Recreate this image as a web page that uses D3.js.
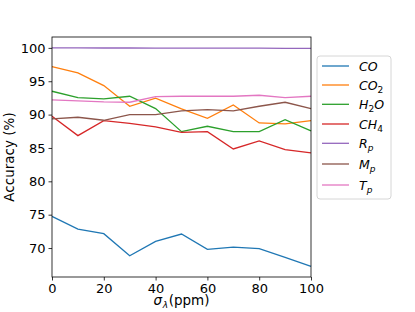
<!DOCTYPE html>
<html>
<head>
<meta charset="utf-8">
<script src="https://cdn.jsdelivr.net/npm/d3@7"></script>
<style>
  body { margin: 0; background: #fff; }
  text { font-family: "DejaVu Sans", sans-serif; }
</style>
</head>
<body>
<svg width="415" height="312"></svg>
<script>
// noise levels (ppm)
var sigma = [0, 10, 20, 30, 40, 50, 60, 70, 80, 90, 100];

// accuracy (%) per retrieved quantity
var co  = [74.75, 72.85, 72.15, 68.85, 71.0, 72.1, 69.8, 70.15, 69.9, 68.6, 67.25];
var co2 = [97.2, 96.25, 94.35, 91.25, 92.45, 90.85, 89.45, 91.45, 88.75, 88.6, 89.1];
var h2o = [93.5, 92.55, 92.35, 92.75, 90.9, 87.45, 88.25, 87.45, 87.45, 89.25, 87.55];
var ch4 = [89.75, 86.85, 89.1, 88.7, 88.15, 87.35, 87.45, 84.85, 86.05, 84.75, 84.25];
var rp  = [100, 100, 99.98, 99.98, 99.97, 99.97, 99.96, 99.95, 99.95, 99.93, 99.92];
var mp  = [89.35, 89.6, 89.15, 90.0, 90.0, 90.55, 90.75, 90.55, 91.25, 91.85, 90.9];
var tp  = [92.2, 92.05, 91.9, 91.85, 92.7, 92.75, 92.75, 92.75, 92.9, 92.55, 92.75];

var xTicks = [0, 20, 40, 60, 80, 100];
var yTicks = [70, 75, 80, 85, 90, 95, 100];

// legend labels: [main, subscript, trailing]
var series = [
  { name: ["CO", "", ""],  values: co,  color: "#1f77b4" },
  { name: ["CO", "2", ""], values: co2, color: "#ff7f0e" },
  { name: ["H", "2", "O"], values: h2o, color: "#2ca02c" },
  { name: ["CH", "4", ""], values: ch4, color: "#d62728" },
  { name: ["R", "p", ""],  values: rp,  color: "#9467bd" },
  { name: ["M", "p", ""],  values: mp,  color: "#8c564b" },
  { name: ["T", "p", ""],  values: tp,  color: "#e377c2" }
];

var svg = d3.select("svg");
var pLeft = 52, pRight = 311, pTop = 37, pBottom = 277;

var x = d3.scaleLinear().domain([0, 100]).range([pLeft, pRight]);
var y = d3.scaleLinear().domain([65.66, 101.63]).range([pBottom, pTop]);

svg.append("g")
    .attr("transform", "translate(0," + pBottom + ")")
    .call(d3.axisBottom(x).tickValues(xTicks).tickSize(3.5).tickPadding(3).tickSizeOuter(0));
svg.append("g")
    .attr("transform", "translate(" + pLeft + ",0)")
    .call(d3.axisLeft(y).tickValues(yTicks).tickSize(3.5).tickPadding(3).tickSizeOuter(0));

svg.selectAll(".domain").remove();
svg.selectAll(".tick text")
    .style("font-family", "DejaVu Sans")
    .style("font-size", "13px")
    .attr("fill", "#000");
svg.selectAll(".tick line").attr("stroke", "#000").attr("stroke-width", 0.8);

// lines
var line = d3.line()
    .x(function(d, i) { return x(sigma[i]); })
    .y(function(d) { return y(d); });

svg.selectAll("path.series")
    .data(series)
  .enter()
  .append("path")
    .attr("class", "series")
    .attr("d", function(d) { return line(d.values); })
    .attr("fill", "none")
    .attr("stroke", function(d) { return d.color; })
    .attr("stroke-width", 1.3);

// frame
svg.append("rect")
    .attr("x", pLeft).attr("y", pTop)
    .attr("width", pRight - pLeft).attr("height", pBottom - pTop)
    .attr("fill", "none").attr("stroke", "#000").attr("stroke-width", 0.8);

// axis labels
svg.append("text")
    .attr("transform", "translate(14," + ((pTop + pBottom) / 2) + ") rotate(-90)")
    .attr("text-anchor", "middle")
    .style("font-size", "13.5px")
    .text("Accuracy (%)");

var xl = svg.append("text")
    .attr("x", (pLeft + pRight) / 2)
    .attr("y", 305)
    .attr("text-anchor", "middle")
    .style("font-size", "13.5px");
xl.append("tspan").style("font-style", "italic").text("σ");
xl.append("tspan").style("font-style", "italic").style("font-size", "9px").attr("dx", 0.8).attr("dy", 3).text("λ");
xl.append("tspan").attr("dx", 0.5).attr("dy", -3).text("(ppm)");

// legend
var lg = svg.append("g").attr("transform", "translate(317,56)");
lg.append("rect")
    .attr("width", 74).attr("height", 143)
    .attr("rx", 3).attr("ry", 3)
    .attr("fill", "#fff").attr("fill-opacity", 0.8)
    .attr("stroke", "#cccccc").attr("stroke-width", 0.8);

var rowY = [10, 29, 48.3, 68, 87.3, 108, 129];
var item = lg.selectAll("g.item")
    .data(series)
  .enter()
  .append("g")
    .attr("class", "item")
    .attr("transform", function(d, i) { return "translate(0," + rowY[i] + ")"; });

item.append("line")
    .attr("x1", 5).attr("x2", 32)
    .attr("stroke", function(d) { return d.color; })
    .attr("stroke-width", 1.3);

var lt = item.append("text")
    .attr("x", 42)
    .attr("y", 4.5)
    .style("font-size", "12.5px");
lt.append("tspan").style("font-style", "italic").text(function(d) { return d.name[0]; });
lt.append("tspan")
    .style("font-size", "9px")
    .style("font-style", function(d) { return d.name[1] === "p" ? "italic" : "normal"; })
    .attr("dy", 3)
    .text(function(d) { return d.name[1]; });
lt.append("tspan")
    .style("font-style", "italic")
    .attr("dy", -3)
    .text(function(d) { return d.name[2]; });
</script>
</body>
</html>
